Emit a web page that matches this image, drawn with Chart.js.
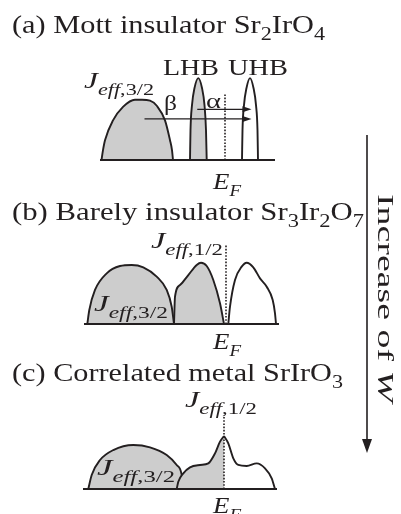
<!DOCTYPE html>
<html><head><meta charset="utf-8">
<script src="https://cdn.jsdelivr.net/npm/chart.js@4/dist/chart.umd.min.js"></script>
<style>
html,body{margin:0;padding:0;background:#fff;}
.wrap{position:relative;width:401px;height:514px;overflow:hidden;}
canvas{position:absolute;left:0;top:0;}
</style></head>
<body><div class="wrap">
<canvas id="ca" width="401" height="514"></canvas>
<canvas id="cb" width="401" height="514"></canvas>
<canvas id="cc" width="401" height="514"></canvas>
</div>
<script>
// ---------- DATA (energy relative to E_F, arbitrary units; DOS arbitrary units) ----------
// (a) Mott insulator Sr2IrO4
const aJ32Energy = [-2.47,-2.44,-2.40,-2.24,-2.04,-1.80,-1.66,-1.50,-1.36,-1.20,-1.10,-1.06,-1.04];
const aJ32Dos    = [0,0.11,0.22,0.44,0.59,0.67,0.67,0.66,0.60,0.44,0.22,0.11,0];
const aLHBEnergy = [-0.70,-0.69,-0.66,-0.61,-0.534,-0.46,-0.41,-0.38,-0.366];
const aLHBDos    = [0,0.33,0.61,0.80,0.91,0.80,0.61,0.33,0];
const aUHBEnergy = [0.34,0.35,0.38,0.43,0.50,0.57,0.62,0.65,0.66];
const aUHBDos    = [0,0.33,0.61,0.80,0.91,0.80,0.61,0.33,0];
const aEnergyRange = [-2.5, 1.0];
const aFermiTop = 0.73;
// optical transitions alpha, beta
const transLabels = ['α','β'];
const transFrom   = [-0.555,-1.61];
const transTo     = [0.53,0.53];
const transLevel  = [0.563,0.456];

// (b) Barely insulator Sr3Ir2O7
const bJ32Energy = [-2.774,-2.734,-2.62,-2.386,-2.12,-1.886,-1.654,-1.386,-1.186,-1.086,-1.04];
const bJ32Dos    = [0,0.156,0.378,0.563,0.644,0.656,0.63,0.526,0.378,0.192,0];
const bLowEnergy = [-1.04,-1.02,-0.92,-0.754,-0.586,-0.5,-0.386,-0.254,-0.12,-0.04];
const bLowDos    = [0,0.303,0.433,0.544,0.656,0.681,0.644,0.489,0.23,0];
const bUpEnergy  = [0.046,0.08,0.18,0.314,0.414,0.546,0.68,0.814,0.934,0.98,1.0];
const bUpDos     = [0,0.192,0.489,0.637,0.681,0.63,0.507,0.415,0.267,0.119,0];
const bEnergyRange = [-2.84, 1.06];
const bFermiTop = 0.88;

// (c) Correlated metal SrIrO3
const cJ32Energy   = [-2.714,-2.646,-2.48,-2.214,-1.814,-1.48,-1.146,-0.946,-0.846,-0.82];
const cJ32Dos      = [0,0.156,0.322,0.433,0.489,0.463,0.378,0.267,0.156,0];
const cOccEnergy   = [-0.946,-0.914,-0.814,-0.68,-0.48,-0.314,-0.18,-0.08,0];
const cOccDos      = [0,0.081,0.174,0.241,0.267,0.285,0.396,0.526,0.589];
const cUnoccEnergy = [0,0.086,0.186,0.286,0.454,0.654,0.82,0.954,1.02];
const cUnoccDos    = [0.589,0.507,0.341,0.267,0.256,0.285,0.23,0.119,0];
const cEnergyRange = [-2.82, 1.06];
const cFermiTop = 0.80;

// ---------- STYLE / LAYOUT ----------
const INK = '#231f20';
const GRAY = '#cdcdcd';
const SERIF = '"Liberation Serif", "Times New Roman", serif';

function pts(xs, ys){ return xs.map((x,i)=>({x:x, y:ys[i]})); }

function band(xs, ys, fillColor, order){
  return {data: pts(xs,ys), showLine:true, borderColor:INK, borderWidth:1.9,
    backgroundColor: fillColor, fill: fillColor ? 'origin' : false,
    cubicInterpolationMode:'monotone', pointRadius:0, clip:false, order:order};
}
function baseline(range){
  return {data: pts(range,[0,0]), showLine:true, borderColor:INK, borderWidth:2,
    fill:false, pointRadius:0, clip:false, order:0};
}
function fermi(top){
  return {data: pts([0,0],[0,top]), showLine:true, borderColor:INK, borderWidth:1.6,
    borderDash:[1.6,1.6], fill:false, pointRadius:0, clip:false, order:1};
}

function drawRich(ctx, segs, x, y, size, width){
  const parts = segs.map(s=>{
    const fs = s.sub ? size*0.72 : size;
    const font = (s.it?'italic ':'') + Math.round(fs) + 'px ' + SERIF;
    ctx.font = font;
    return {t:s.t, font:font, w:ctx.measureText(s.t).width, dy: s.sub ? size*0.28 : 0};
  });
  const total = parts.reduce((a,p)=>a+p.w,0);
  const sx = width ? width/total : 1;
  ctx.save();
  ctx.translate(x,y); ctx.scale(sx,1);
  ctx.fillStyle = INK; ctx.textAlign='left'; ctx.textBaseline='alphabetic';
  let cx = 0;
  for(const p of parts){ ctx.font = p.font; ctx.fillText(p.t, cx, p.dy); cx += p.w; }
  ctx.restore();
}
const J32 = [{t:'J',it:true},{t:'eff',it:true,sub:true},{t:',3/2',sub:true}];
const J12 = [{t:'J',it:true},{t:'eff',it:true,sub:true},{t:',1/2',sub:true}];
const EF  = [{t:'E',it:true},{t:'F',it:true,sub:true}];

// text annotations per panel: [segments, x, baseline y, font size, target width]
const textsA = [
  [[{t:'(a) Mott insulator Sr'},{t:'2',sub:true},{t:'IrO'},{t:'4',sub:true}], 12, 33, 26, 313],
  [J32, 84, 88, 24, 70],
  [[{t:'LHB'}], 163, 75, 24, 56],
  [[{t:'UHB'}], 228, 75, 24, 60],
  [EF, 213, 189, 24, 28]
];
const textsB = [
  [[{t:'(b) Barely insulator Sr'},{t:'3',sub:true},{t:'Ir'},{t:'2',sub:true},{t:'O'},{t:'7',sub:true}], 12, 220, 26, 352],
  [J12, 151, 248, 24, 72],
  [J32, 94, 311, 24, 74],
  [EF, 213, 349, 24, 28]
];
const textsC = [
  [[{t:'(c) Correlated metal SrIrO'},{t:'3',sub:true}], 12, 381, 26, 331],
  [J12, 185, 407, 24, 72],
  [J32, 97, 475, 24, 78],
  [EF, 213, 513, 24, 28]
];

function textPlugin(list, extra){
  return {id:'txt', afterDatasetsDraw(chart){
    const ctx = chart.ctx;
    if(extra) extra(chart, ctx);
    for(const t of list) drawRich(ctx, t[0], t[1], t[2], t[3], t[4]);
  }};
}

function arrowHead(ctx, x, y, dx, dy, len, half){
  const l = Math.hypot(dx,dy); const ux=dx/l, uy=dy/l;
  ctx.beginPath();
  ctx.moveTo(x,y);
  ctx.lineTo(x-ux*len - uy*half, y-uy*len + ux*half);
  ctx.lineTo(x-ux*len + uy*half, y-uy*len - ux*half);
  ctx.closePath(); ctx.fill();
}

function transitionsDraw(chart, ctx){
  const xs = chart.scales.x, ys = chart.scales.y;
  ctx.save();
  ctx.strokeStyle = INK; ctx.fillStyle = INK; ctx.lineWidth = 1.2;
  for(let i=0;i<transFrom.length;i++){
    const x0 = xs.getPixelForValue(transFrom[i]), x1 = xs.getPixelForValue(transTo[i]);
    const y = ys.getPixelForValue(transLevel[i]);
    ctx.beginPath(); ctx.moveTo(x0,y); ctx.lineTo(x1-6,y); ctx.stroke();
    arrowHead(ctx, x1, y, 1, 0, 9, 3);
  }
  ctx.restore();
  drawRich(ctx, [{t:transLabels[0]}], 206, 108, 22, 15);
  drawRich(ctx, [{t:transLabels[1]}], 164, 110, 22, 13);
}

function rightArrow(chart, ctx){
  ctx.save();
  ctx.strokeStyle = INK; ctx.fillStyle = INK; ctx.lineWidth = 1.6;
  ctx.beginPath(); ctx.moveTo(367,135); ctx.lineTo(367,442); ctx.stroke();
  arrowHead(ctx, 367, 453, 0, 1, 14, 5);
  ctx.translate(378,194); ctx.rotate(Math.PI/2);
  drawRich(ctx, [{t:'Increase of '},{t:'W',it:true}], 0, 0, 24, 208);
  ctx.restore();
}

function makeChart(id, datasets, range, pad, plugins){
  return new Chart(document.getElementById(id), {
    type:'scatter',
    data:{datasets:datasets},
    options:{
      responsive:false, animation:false, events:[],
      layout:{padding:pad},
      plugins:{legend:{display:false}, tooltip:{enabled:false}, title:{display:false}},
      scales:{
        x:{type:'linear', display:false, min:range[0], max:range[1]},
        y:{type:'linear', display:false, min:0, max:1}
      }
    },
    plugins:plugins
  });
}

makeChart('ca', [
  baseline(aEnergyRange),
  fermi(aFermiTop),
  band(aUHBEnergy, aUHBDos, '#ffffff', 2),
  band(aLHBEnergy, aLHBDos, GRAY, 3),
  band(aJ32Energy, aJ32Dos, GRAY, 4)
], aEnergyRange, {left:100, right:126, top:70, bottom:354}, [textPlugin(textsA, transitionsDraw)]);

makeChart('cb', [
  baseline(bEnergyRange),
  fermi(bFermiTop),
  band(bUpEnergy, bUpDos, '#ffffff', 2),
  band(bLowEnergy, bLowDos, GRAY, 3),
  band(bJ32Energy, bJ32Dos, GRAY, 4)
], bEnergyRange, {left:84, right:122, top:234, bottom:190}, [textPlugin(textsB)]);

makeChart('cc', [
  baseline(cEnergyRange),
  fermi(cFermiTop),
  band(cUnoccEnergy, cUnoccDos, '#ffffff', 2),
  band(cOccEnergy, cOccDos, GRAY, 3),
  band(cJ32Energy, cJ32Dos, GRAY, 4)
], cEnergyRange, {left:83, right:124, top:399, bottom:25}, [textPlugin(textsC, rightArrow)]);
</script>
</body></html>
